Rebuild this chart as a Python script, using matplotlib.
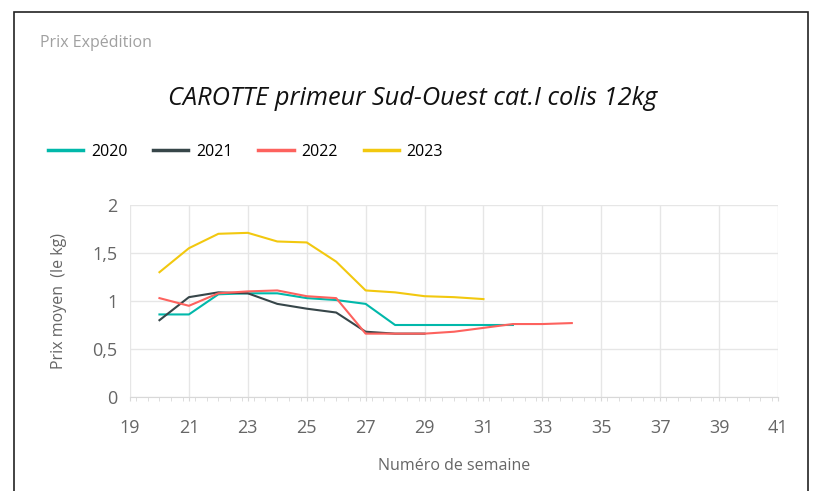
import numpy as np
import matplotlib.pyplot as plt
from matplotlib.ticker import MultipleLocator, FixedLocator, FuncFormatter
from matplotlib.patches import Rectangle

plt.rcParams['font.family'] = ['Open Sans', 'DejaVu Sans']

# Weekly average price (EUR/kg) per year
weeks_2020 = [20, 21, 22, 23, 24, 25, 26, 27, 28, 29, 30, 31, 32]
price_2020 = [0.86, 0.86, 1.07, 1.08, 1.08, 1.03, 1.01, 0.97, 0.75, 0.75, 0.75, 0.75, 0.75]

weeks_2021 = [20, 21, 22, 23, 24, 25, 26, 27, 28, 29]
price_2021 = [0.80, 1.04, 1.09, 1.08, 0.97, 0.92, 0.88, 0.68, 0.66, 0.66]

weeks_2022 = [20, 21, 22, 23, 24, 25, 26, 27, 28, 29, 30, 31, 32, 33, 34]
price_2022 = [1.03, 0.95, 1.08, 1.10, 1.11, 1.05, 1.03, 0.66, 0.66, 0.66, 0.68, 0.72, 0.76, 0.76, 0.77]

weeks_2023 = [20, 21, 22, 23, 24, 25, 26, 27, 28, 29, 30, 31]
price_2023 = [1.30, 1.55, 1.70, 1.71, 1.62, 1.61, 1.41, 1.11, 1.09, 1.05, 1.04, 1.02]

years = ['2020', '2021', '2022', '2023']
colors = ['#01B8AA', '#374649', '#FD625E', '#F2C80F']
xticks = list(range(19, 42, 2))

W, H = 813, 491
fig = plt.figure(figsize=(W / 100, H / 100), dpi=100)

# card frame
fig.patches.append(Rectangle((14 / W, -0.01), (808 - 14) / W, (H - 12) / H + 0.01,
                             transform=fig.transFigure, fill=False,
                             edgecolor='#222222', linewidth=1.2))

fig.text(40 / W, 1 - 43 / H, 'Prix Expédition', fontsize=11.5, color='#a0a0a0',
         va='center', ha='left')
fig.text(413 / W, 1 - 98 / H, 'CAROTTE primeur Sud-Ouest cat.I colis 12kg',
         fontsize=18.3, style='italic', color='#111111', ha='center', va='center')

ax = fig.add_axes([130 / W, 1 - 397 / H, (778 - 130) / W, (397 - 205) / H])

series = [(weeks_2020, price_2020), (weeks_2021, price_2021),
          (weeks_2022, price_2022), (weeks_2023, price_2023)]
handles = []
for (wk, pr), lab, col in zip(series, years, colors):
    h, = ax.plot(wk, pr, color=col, linewidth=1.5, label=lab)
    handles.append(h)

ax.set_xlim(19, 41)
ax.set_ylim(0, 2)
ax.xaxis.set_major_locator(FixedLocator(xticks))
ax.xaxis.set_minor_locator(MultipleLocator(0.4))
ax.yaxis.set_major_locator(MultipleLocator(0.5))
ax.yaxis.set_major_formatter(FuncFormatter(lambda v, p: f'{v:g}'.replace('.', ',')))

ax.grid(True, which='major', color='#e6e6e6', linewidth=1)
for s in ['top', 'right', 'left']:
    ax.spines[s].set_visible(False)
ax.spines['bottom'].set_color('#d8d8d8')
ax.tick_params(axis='x', which='major', length=3, color='#d8d8d8',
               labelsize=13, labelcolor='#666666', pad=13)
ax.tick_params(axis='x', which='minor', length=3, color='#d8d8d8')
ax.tick_params(axis='y', length=0, labelsize=13, labelcolor='#666666', pad=9)

ax.set_ylabel('Prix moyen  (le kg)', fontsize=11.5, color='#666666', labelpad=18)
ax.set_xlabel('Numéro de semaine', fontsize=11.5, color='#666666', labelpad=15)

fig.legend(handles=handles, labels=years, loc='center left',
           bbox_to_anchor=(48 / W, 1 - 152 / H), ncol=4, frameon=False,
           fontsize=11.5, handlelength=2.2, handletextpad=0.5, columnspacing=1.6,
           borderpad=0, borderaxespad=0)
for line in fig.legends[0].get_lines():
    line.set_linewidth(2.5)

fig.savefig('out.png', dpi=100)
